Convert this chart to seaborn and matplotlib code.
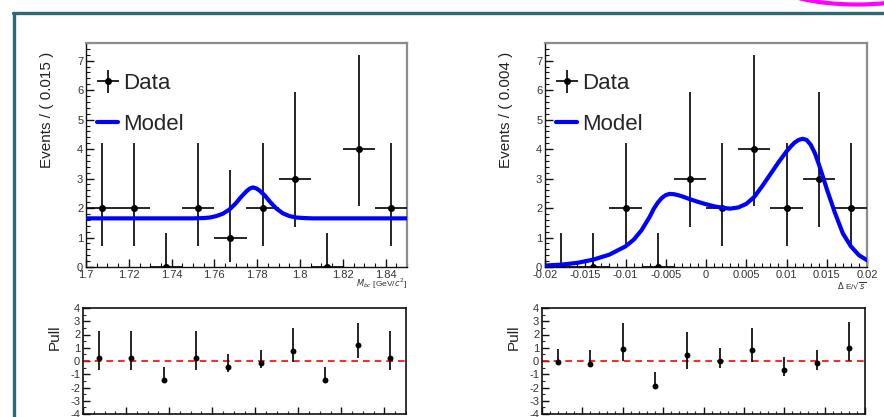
import numpy as np
import pandas as pd
import matplotlib
matplotlib.use("Agg")
import matplotlib.pyplot as plt
from matplotlib.lines import Line2D
from matplotlib.patches import Ellipse
from matplotlib.ticker import MultipleLocator, FixedLocator
import seaborn as sns

# ---------------- data ----------------
# left: M_bc
mbc_centers = [1.7075, 1.7225, 1.7375, 1.7525, 1.7675, 1.7825, 1.7975, 1.8125, 1.8275, 1.8425]
mbc_counts = [2, 2, 0, 2, 1, 2, 3, 0, 4, 2]
mbc_err_lo = [1.30, 1.30, 0.0, 1.30, 0.83, 1.30, 1.63, 0.0, 1.92, 1.30]
mbc_err_hi = [2.20, 2.20, 1.15, 2.20, 2.30, 2.20, 2.95, 1.15, 3.20, 2.20]
mbc_model_x = [1.700, 1.750, 1.755, 1.758, 1.761, 1.764, 1.767, 1.770, 1.7725, 1.775,
               1.7765, 1.778, 1.7795, 1.781, 1.7835, 1.786, 1.789, 1.792, 1.795,
               1.798, 1.802, 1.806, 1.850]
mbc_model_y = [1.65, 1.65, 1.66, 1.68, 1.73, 1.81, 1.95, 2.16, 2.38, 2.57,
               2.66, 2.70, 2.67, 2.60, 2.43, 2.21, 1.98, 1.82, 1.73,
               1.68, 1.66, 1.65, 1.65]
mbc_pull = [0.25, 0.25, -1.45, 0.25, -0.45, -0.12, 0.75, -1.45, 1.20, 0.25]
mbc_pull_lo = [0.95, 0.95, 0.0, 0.95, 0.40, 0.43, 0.85, 0.0, 0.95, 0.95]
mbc_pull_hi = [2.00, 2.00, 1.00, 2.00, 0.95, 0.92, 1.75, 1.00, 1.70, 2.00]

# right: Delta E / sqrt(s)
de_centers = [-0.018, -0.014, -0.010, -0.006, -0.002, 0.002, 0.006, 0.010, 0.014, 0.018]
de_counts = [0, 0, 2, 0, 3, 2, 4, 2, 3, 2]
de_err_lo = [0.0, 0.0, 1.30, 0.0, 1.63, 1.30, 1.92, 1.30, 1.63, 1.30]
de_err_hi = [1.15, 1.15, 2.20, 1.15, 2.95, 2.20, 3.20, 2.20, 2.95, 2.20]
de_model_x = [-0.020, -0.018, -0.016, -0.014, -0.012, -0.010, -0.009, -0.008, -0.007,
              -0.0065, -0.006, -0.0055, -0.005, -0.0045, -0.004, -0.0035, -0.003,
              -0.002, -0.001, 0.000, 0.001, 0.002, 0.003, 0.004, 0.005, 0.006, 0.007,
              0.008, 0.009, 0.010, 0.0105, 0.011, 0.0115, 0.012, 0.0125, 0.013,
              0.0135, 0.014, 0.0145, 0.015, 0.0155, 0.016, 0.017, 0.018, 0.019, 0.020]
de_model_y = [0.05, 0.08, 0.14, 0.25, 0.42, 0.70, 0.92, 1.25, 1.70,
              1.97, 2.18, 2.34, 2.44, 2.48, 2.47, 2.44, 2.40,
              2.30, 2.21, 2.13, 2.06, 2.01, 1.98, 2.02, 2.14, 2.38, 2.75,
              3.15, 3.55, 3.92, 4.08, 4.22, 4.31, 4.35, 4.31, 4.15,
              3.88, 3.50, 3.08, 2.65, 2.25, 1.85, 1.14, 0.70, 0.40, 0.23]
de_pull = [-0.07, -0.25, 0.90, -1.85, 0.45, 0.00, 0.80, -0.65, -0.12, 0.95]
de_pull_lo = [0.0, 0.0, 0.90, 0.0, 1.05, 0.50, 0.85, 0.50, 0.58, 0.95]
de_pull_hi = [1.00, 1.05, 2.00, 1.00, 1.75, 1.00, 1.70, 0.95, 0.92, 2.00]

mbc_ticks = [1.70, 1.72, 1.74, 1.76, 1.78, 1.80, 1.82, 1.84]
mbc_ticklabels = ["1.7", "1.72", "1.74", "1.76", "1.78", "1.8", "1.82", "1.84"]
de_ticks = [-0.02, -0.015, -0.01, -0.005, 0.0, 0.005, 0.01, 0.015, 0.02]
de_ticklabels = ["-0.02", "-0.015", "-0.01", "-0.005", "0", "0.005", "0.01", "0.015", "0.02"]

# ---------------- style ----------------
sns.set_theme(style="ticks")
plt.rcParams["font.family"] = ["Liberation Sans", "DejaVu Sans"]
plt.rcParams["axes.unicode_minus"] = False

W, H = 884, 417
fig = plt.figure(figsize=(W / 100, H / 100), dpi=100)
fig.patch.set_facecolor("white")


def rect(l, t, r, b):
    return [l / W, 1 - b / H, (r - l) / W, (b - t) / H]


def style_top(ax):
    ax.set_facecolor("white")
    for s in ["top", "right"]:
        ax.spines[s].set_color("#8c8c8c")
        ax.spines[s].set_linewidth(1.6)
    for s in ["left", "bottom"]:
        ax.spines[s].set_color("#111111")
        ax.spines[s].set_linewidth(1.0)
    ax.tick_params(axis="both", which="major", direction="in", length=6, width=1,
                   labelsize=8, colors="#111111", labelcolor="#333333", pad=2)
    ax.tick_params(axis="both", which="minor", direction="in", length=3, width=0.8,
                   colors="#111111")
    ax.tick_params(top=False, right=False, which="both")


def style_pull(ax):
    ax.set_facecolor("white")
    for s in ax.spines.values():
        s.set_color("#111111")
        s.set_linewidth(1.2)
    ax.tick_params(axis="both", which="major", direction="in", length=5, width=1,
                   labelsize=8, colors="#111111", labelcolor="#333333", pad=2)
    ax.tick_params(axis="both", which="minor", direction="in", length=2.5, width=0.8)
    ax.tick_params(top=False, right=False, which="both", labelbottom=False)


def top_panel(ax, centers, counts, lo, hi, halfw, mx, my, xlim, ticks, ticklabels,
              minor, ylabel, xlabel, xlabel_y):
    style_top(ax)
    eb = ax.errorbar(centers, counts, yerr=[lo, hi], xerr=halfw, fmt="o", color="black",
                     ms=4, elinewidth=1.2, capsize=0, zorder=3, label="Data")
    df = pd.DataFrame({"x": mx, "y": my})
    sns.lineplot(data=df, x="x", y="y", ax=ax, color="#0000ff", lw=3.0, sort=False,
                 estimator=None, zorder=4, legend=False)
    for ln in ax.lines:
        ln.set_solid_joinstyle("round")
        ln.set_solid_capstyle("round")
    ax.set_xlim(*xlim)
    ax.set_ylim(0, 7.6)
    ax.xaxis.set_major_locator(FixedLocator(ticks))
    ax.set_xticklabels(ticklabels)
    ax.xaxis.set_minor_locator(MultipleLocator(minor))
    ax.yaxis.set_major_locator(MultipleLocator(1))
    ax.yaxis.set_minor_locator(MultipleLocator(0.2))
    ax.set_xlabel("")
    ax.set_ylabel(ylabel, fontsize=11, color="#222222")
    ax.yaxis.set_label_coords(-0.10, 0.70)
    ax.text(1.0, xlabel_y, xlabel, transform=ax.transAxes, ha="right", va="center",
            fontsize=6, color="#333333")
    model_handle = Line2D([], [], color="#0000ff", lw=3.0)
    ax.legend([eb, model_handle], ["Data", "Model"], loc="upper left",
              bbox_to_anchor=(0.035, 0.865), frameon=False, fontsize=16,
              borderpad=0, borderaxespad=0, handlelength=0.95, handletextpad=0.2,
              labelspacing=0.9)


def pull_panel(ax, centers, pull, plo, phi, xlim, ticks, minor):
    style_pull(ax)
    ax.axhline(0, color="#ff0000", lw=1.2, ls=(0, (4, 3)), zorder=1)
    ax.errorbar(centers, pull, yerr=[plo, phi], fmt="none", ecolor="black",
                elinewidth=1.2, capsize=0, zorder=2)
    dfp = pd.DataFrame({"x": centers, "y": pull})
    sns.scatterplot(data=dfp, x="x", y="y", ax=ax, color="black", s=18,
                    edgecolor="black", linewidth=0, zorder=3, legend=False)
    ax.set_xlim(*xlim)
    ax.set_ylim(-4, 4)
    ax.xaxis.set_major_locator(FixedLocator(ticks))
    ax.xaxis.set_minor_locator(MultipleLocator(minor))
    ax.yaxis.set_major_locator(MultipleLocator(1))
    ax.yaxis.set_minor_locator(MultipleLocator(0.5))
    ax.set_xlabel("")
    ax.set_ylabel("Pull", fontsize=11, color="#222222")
    ax.yaxis.set_label_coords(-0.065, 0.72)


ax1 = fig.add_axes(rect(86, 43, 407, 267))
top_panel(ax1, mbc_centers, mbc_counts, mbc_err_lo, mbc_err_hi, 0.0075,
          mbc_model_x, mbc_model_y, (1.70, 1.85), mbc_ticks, mbc_ticklabels, 0.005,
          "Events / ( 0.015 )", r"$M_{bc}$ [GeV/$c^2$]", -0.075)

ax2 = fig.add_axes(rect(545, 43, 867, 267))
top_panel(ax2, de_centers, de_counts, de_err_lo, de_err_hi, 0.002,
          de_model_x, de_model_y, (-0.02, 0.02), de_ticks, de_ticklabels, 0.001,
          "Events / ( 0.004 )", r"$\Delta$ E/$\sqrt{s}$", -0.085)

ax3 = fig.add_axes(rect(83, 308, 406, 414))
pull_panel(ax3, mbc_centers, mbc_pull, mbc_pull_lo, mbc_pull_hi, (1.70, 1.85),
           mbc_ticks, 0.005)

ax4 = fig.add_axes(rect(542, 308, 865, 414))
pull_panel(ax4, de_centers, de_pull, de_pull_lo, de_pull_hi, (-0.02, 0.02),
           de_ticks, 0.001)

# ---------------- slide decorations ----------------
frame_col = "#2f6872"
fig.add_artist(Line2D([13 / W, 1.0], [1 - 12.5 / H, 1 - 12.5 / H], color=frame_col,
                      lw=2.4, transform=fig.transFigure))
fig.add_artist(Line2D([14 / W, 14 / W], [0.0, 1 - 12.5 / H], color=frame_col,
                      lw=2.4, transform=fig.transFigure))
fig.add_artist(Ellipse((857 / W, 1 + 15.5 / H), 158 / W, 40 / H, fill=False,
                       edgecolor="#ff00ff", lw=3, transform=fig.transFigure))

fig.savefig("out.png", dpi=100, facecolor="white")
